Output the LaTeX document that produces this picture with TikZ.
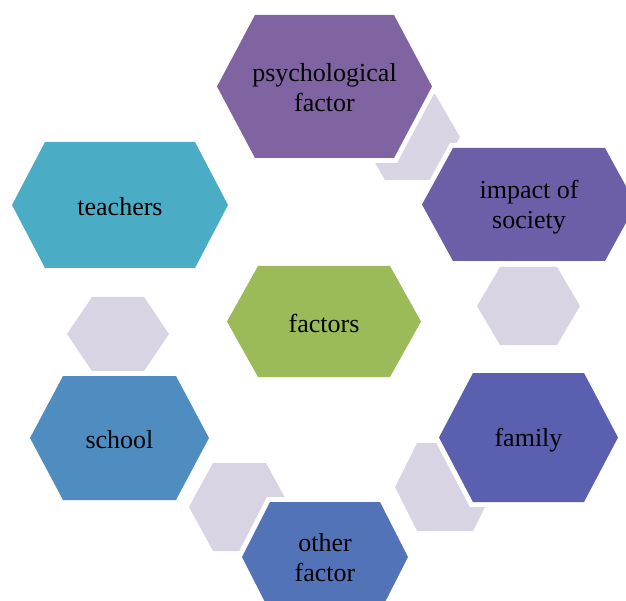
\documentclass[tikz,border=0pt]{standalone}
\usepackage{fontspec}
\setmainfont{Liberation Serif}
\definecolor{cpsy}{HTML}{8064A2}
\definecolor{cimp}{HTML}{6C5FA7}
\definecolor{cfam}{HTML}{5A5FAF}
\definecolor{coth}{HTML}{5373B9}
\definecolor{csch}{HTML}{4F8DC0}
\definecolor{ctea}{HTML}{4BACC6}
\definecolor{cfac}{HTML}{9BBB59}
\definecolor{cgry}{HTML}{D8D4E4}
% \hexpath{cx}{cy}{hw}{hh}{inset}
\newcommand{\hexpath}[5]{({#1-#3},{#2}) -- ({#1-#3+#5},{#2-#4}) -- ({#1+#3-#5},{#2-#4}) -- ({#1+#3},{#2}) -- ({#1+#3-#5},{#2+#4}) -- ({#1-#3+#5},{#2+#4}) -- cycle}
\newcommand{\greyhex}[5]{\fill[cgry] \hexpath{#1}{#2}{#3}{#4}{#5};}
\newcommand{\mainhex}[6]{\draw[white,line width=10pt,line join=miter] \hexpath{#1}{#2}{#3}{#4}{#5};
  \fill[#6] \hexpath{#1}{#2}{#3}{#4}{#5};}
\tikzset{lbl/.style={align=center,font=\fontsize{26pt}{30pt}\selectfont,text=black,inner sep=0pt}}
\begin{document}
\begin{tikzpicture}[x=1pt,y=-1pt]
\useasboundingbox (0,0) rectangle (626,601);
\clip (0,0) rectangle (626,601);
% grey connector hexagons
\greyhex{410}{137}{50}{43}{25}
\greyhex{528.5}{306}{51.5}{39}{23}
\greyhex{445}{487}{50}{44}{22}
\greyhex{239.5}{507}{50.5}{44}{24}
\greyhex{118}{334}{51}{37}{25}
% main hexagons
\mainhex{324.5}{86.5}{107.5}{71.5}{38}{cpsy}
\mainhex{529}{204.5}{107}{56.5}{31}{cimp}
\mainhex{120}{205}{108}{63}{33}{ctea}
\mainhex{324}{321.5}{97}{55.5}{31}{cfac}
\mainhex{119.5}{438}{89.5}{62}{33}{csch}
\mainhex{528.5}{437.5}{89.5}{64.5}{34}{cfam}
\mainhex{325}{557}{83}{55}{28}{coth}
% labels
\node[lbl] (psy) at (324.5,88) {psychological\\factor};
\node[lbl] (imp) at (529,207) {impact of\\society};
\node[lbl] (tea) at (120,207) {teachers};
\node[lbl] (fac) at (324,323) {factors};
\node[lbl] (sch) at (119.5,440) {school};
\node[lbl] (fam) at (528.5,440) {family};
\node[lbl] (oth) at (325,558) {other\\factor};
\end{tikzpicture}
\end{document}
